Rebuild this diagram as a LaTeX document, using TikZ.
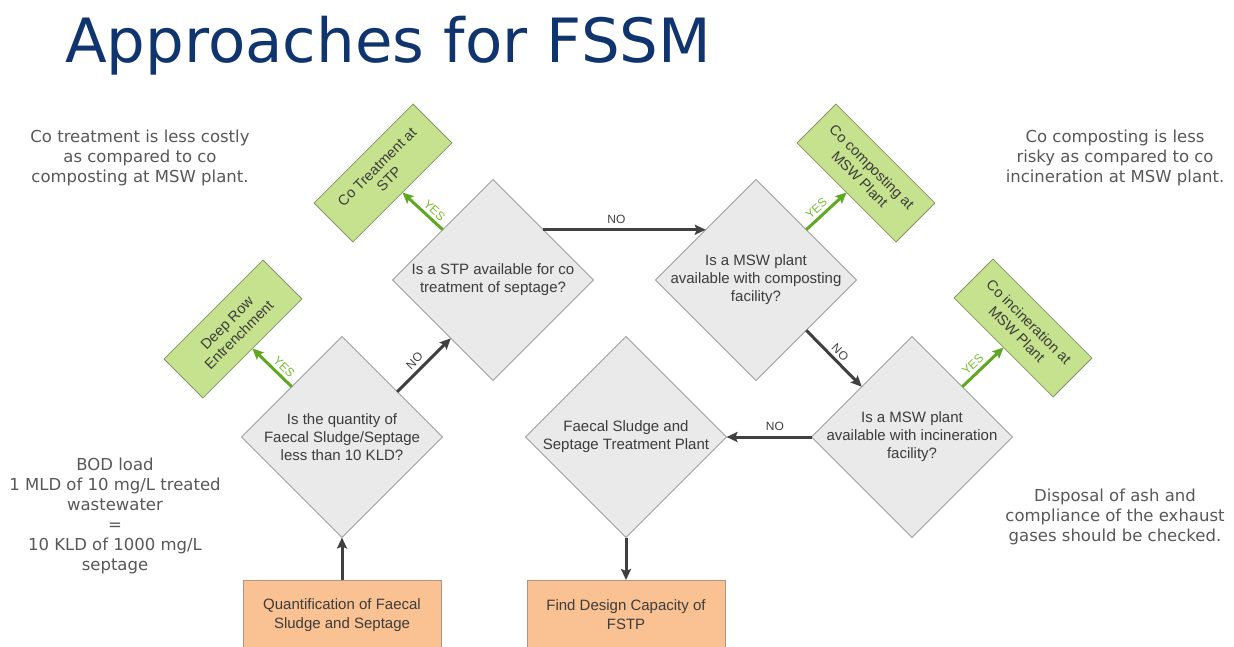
\documentclass[tikz,border=0pt]{standalone}
\usepackage{fontspec}
\setmainfont{Liberation Sans}
\newfontfamily\verd{DejaVu Sans}
\usetikzlibrary{shapes.geometric,arrows.meta,calc}

\definecolor{titleblue}{RGB}{16,52,110}
\definecolor{darkline}{RGB}{64,64,64}
\definecolor{yesgreen}{RGB}{96,168,36}
\definecolor{yestext}{RGB}{120,190,50}
\definecolor{diafill}{RGB}{234,234,234}
\definecolor{diaborder}{RGB}{160,160,160}
\definecolor{boxgreen}{RGB}{198,226,142}
\definecolor{boxgreenborder}{RGB}{130,150,100}
\definecolor{boxorange}{RGB}{250,194,146}
\definecolor{boxorangeborder}{RGB}{170,150,130}
\definecolor{notegray}{RGB}{88,88,88}
\definecolor{textgray}{RGB}{60,60,60}

\begin{document}
\begin{tikzpicture}[x=1pt,y=-1pt,
  decision/.style={diamond, aspect=1, draw=diaborder, fill=diafill, line width=0.8pt,
    minimum width=201pt, minimum height=201pt, inner sep=0pt, outer sep=0pt},
  dtext/.style={align=center, text=textgray, font=\fontsize{15}{18}\selectfont, inner sep=0pt},
  outcome/.style={draw=boxgreenborder, fill=boxgreen, line width=0.8pt, minimum width=140pt,
    minimum height=55pt, align=center, text=textgray, font=\fontsize{14.5}{17}\selectfont,
    inner sep=0pt, outer sep=0pt},
  startbox/.style={draw=boxorangeborder, fill=boxorange, line width=0.8pt, minimum width=198pt,
    minimum height=70pt, align=center, text=textgray, font=\fontsize{15}{19}\selectfont,
    inner sep=0pt, outer sep=0pt},
  sidenote/.style={align=center, text=notegray, font=\verd\fontsize{16.5}{20}\selectfont, inner sep=0pt},
  flow/.style={draw=darkline, line width=3pt, -{Stealth[length=11pt,width=10pt,inset=2pt]}},
  yesflow/.style={draw=yesgreen, line width=3pt, -{Stealth[length=11pt,width=10pt,inset=2pt]}},
  nolab/.style={text=darkline, font=\fontsize{12}{12}\selectfont, inner sep=1pt},
  yeslab/.style={text=yestext, font=\fontsize{12}{12}\selectfont, inner sep=1pt},
]
\fill[white] (0,0) rectangle (1234,646);
\useasboundingbox (0,0) rectangle (1234,646);

% title
\node[anchor=base west, text=titleblue, font=\verd\fontsize{61}{61}\selectfont, inner sep=0pt]
  (title) at (65,62) {Approaches for FSSM};

% side notes
\node[sidenote] (note1) at (140,158) {Co treatment is less costly\\as compared to co\\composting at MSW plant.};
\node[sidenote] (note2) at (1115,158) {Co composting is less\\risky as compared to co\\incineration at MSW plant.};
\node[sidenote] (note3) at (115,516) {BOD load\\1 MLD of 10 mg/L treated\\wastewater\\=\\10 KLD of 1000 mg/L\\septage};
\node[sidenote] (note4) at (1115,517) {Disposal of ash and\\compliance of the exhaust\\gases should be checked.};

% decisions
\node[decision] (d1) at (342,437) {};
\node[decision] (d2) at (493,280) {};
\node[decision] (d3) at (756,280) {};
\node[decision] (d4) at (912,437) {};
\node[decision] (d5) at (626,437) {};
\node[dtext] (d1t) at (d1) {Is the quantity of\\Faecal Sludge/Septage\\less than 10 KLD?};
\node[dtext] (d2t) at (d2) {Is a STP available for co\\treatment of septage?};
\node[dtext] (d3t) at (d3) {Is a MSW plant\\available with composting\\facility?};
\node[dtext] (d4t) at (d4) {Is a MSW plant\\available with incineration\\facility?};
\node[dtext] (d5t) at (d5) {Faecal Sludge and\\Septage Treatment Plant};

% outcomes
\node[outcome, rotate=45] (g1) at (383,173) {Co Treatment at\\STP};
\node[outcome, rotate=45] (g2) at (233,329) {Deep Row\\Entrenchment};
\node[outcome, rotate=-45] (g3) at (866,173) {Co composting at\\MSW Plant};
\node[outcome, rotate=-45] (g4) at (1023,328) {Co incineration at\\MSW Plant};

% start / end boxes
\node[startbox] (b1) at (342,615) {Quantification of Faecal\\Sludge and Septage};
\node[startbox] (b2) at (626,615) {Find Design Capacity of\\FSTP};

% connectors
\draw[flow] (b1.north) -- (d1.south);
\draw[flow] ($(d1.north)!0.55!(d1.east)$) -- node[nolab, sloped, pos=0.45, above=3pt] (no1) {NO} ($(d2.west)!0.58!(d2.south)$);
\draw[flow] (d2.north east) -- node[nolab, pos=0.45, above=4pt] (no2) {NO} (d3.north west);
\draw[flow] (d3.south east) -- node[nolab, sloped, pos=0.5, above=2pt] (no3) {NO} (d4.north west);
\draw[flow] (d4.west) -- node[nolab, pos=0.43, above=4pt] (no4) {NO} (d5.east);
\draw[flow] (d5.south) -- (b2.north);

\draw[yesflow] (d1.north west) -- node[yeslab, sloped, pos=0.35, above=2pt] (yes2) {YES} (g2.south);
\draw[yesflow] (d2.north west) -- node[yeslab, sloped, pos=0.35, above=2pt] (yes1) {YES} (g1.south);
\draw[yesflow] (d3.north east) -- node[yeslab, sloped, pos=0.4, above=2pt] (yes3) {YES} (g3.south);
\draw[yesflow] (d4.north east) -- node[yeslab, sloped, pos=0.4, above=2pt] (yes4) {YES} (g4.south);
\end{tikzpicture}
\end{document}
